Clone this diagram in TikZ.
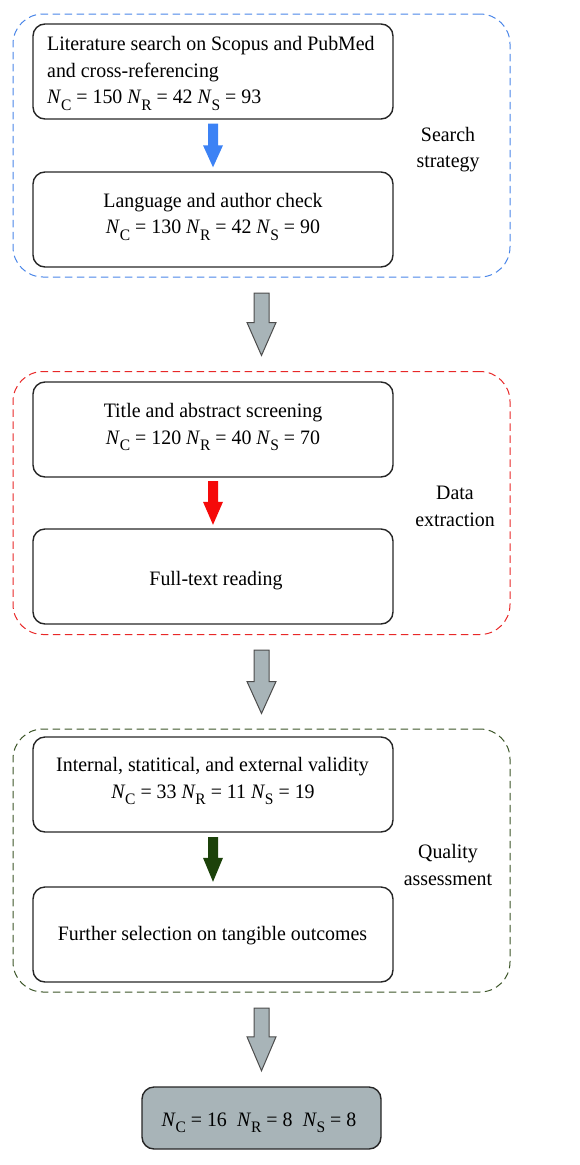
\documentclass[tikz,border=0pt]{standalone}
\usepackage{fontspec}
\setmainfont[FakeStretch=0.97]{Liberation Serif}
\usetikzlibrary{calc}
\definecolor{dblue}{RGB}{74,134,232}
\definecolor{dred}{RGB}{232,40,40}
\definecolor{dgreen}{RGB}{60,85,40}
\definecolor{agreen}{RGB}{28,66,10}
\definecolor{agrey}{RGB}{168,180,184}
\definecolor{ablue}{RGB}{60,130,245}
\definecolor{ared}{RGB}{245,10,10}
\newcommand{\Nx}[1]{\textit{N}\kern-0.3pt\raisebox{-6.5pt}{\fontsize{16}{16}\selectfont #1}}
\newcommand{\fatarrow}[7]{%
  \draw[#7] ($(#1.south)+(-#3,#6)$) -- ($(#1.south)+(#3,#6)$)
    -- ($(#2.north)+(#3,-#6-#5)$) -- ($(#2.north)+(#4,-#6-#5)$)
    -- ($(#2.north)+(0,-#6)$) -- ($(#2.north)+(-#4,-#6-#5)$)
    -- ($(#2.north)+(-#3,-#6-#5)$) -- cycle;}
\tikzset{
  txt/.style={font=\fontsize{20.5}{25}\selectfont, inner sep=0pt},
  box/.style={draw=black!85, line width=1.4pt, rounded corners=12pt, minimum width=360pt, minimum height=95pt, inner sep=0pt},
  dbox/.style={line width=1pt, dash pattern=on 7.5pt off 4.5pt, rounded corners=30pt, minimum width=497pt, minimum height=263pt, inner sep=0pt},
  greyarrow/.style={fill=agrey, draw=black!70, line width=1pt},
}
\begin{document}
\begin{tikzpicture}[x=1pt,y=-1pt]
\useasboundingbox (0,0) rectangle (579,1165);
% dashed groups
\node[dbox, draw=dblue] (s1) at (261.5,145.5) {};
\node[dbox, draw=dred] (s2) at (261.5,503) {};
\node[dbox, draw=dgreen] (s3) at (261.5,860.5) {};
% boxes
\node[box] (b1) at (213,71.5) {};
\node[box] (b2) at (213,219.5) {};
\node[box] (b3) at (213,429.5) {};
\node[box] (b4) at (213,576.5) {};
\node[box] (b5) at (213,784.5) {};
\node[box] (b6) at (213,934.5) {};
\node[box, fill=agrey, minimum width=239pt, minimum height=62pt] (fin) at (261.5,1118) {};
% texts
\node[txt, anchor=base west] (t1a) at (47,50) {Literature search on Scopus and PubMed};
\node[txt, anchor=base west] (t1b) at (47,77) {and cross-referencing};
\node[txt, anchor=base west] (t1c) at (47,103.5) {\Nx{C} = 150 \Nx{R} = 42 \Nx{S} = 93};
\node[txt, anchor=base] (t2a) at (213,207.5) {Language and author check};
\node[txt, anchor=base] (t2b) at (213,233.5) {\Nx{C} = 130 \Nx{R} = 42 \Nx{S} = 90};
\node[txt, anchor=base] (t3a) at (213,417) {Title and abstract screening};
\node[txt, anchor=base] (t3b) at (213,444) {\Nx{C} = 120 \Nx{R} = 40 \Nx{S} = 70};
\node[txt, anchor=base] (t4a) at (216,585) {Full-text reading};
\node[txt, anchor=base] (t5a) at (212.5,771.5) {Internal, statitical, and external validity};
\node[txt, anchor=base] (t5b) at (213,798) {\Nx{C} = 33 \Nx{R} = 11 \Nx{S} = 19};
\node[txt, anchor=base] (t6a) at (212.5,940) {Further selection on tangible outcomes};
\node[txt, anchor=base] (tfin) at (259,1126) {\Nx{C} = 16\enspace\Nx{R} = 8\enspace\Nx{S} = 8};
% side labels
\node[txt, anchor=base] (l1a) at (448,141.5) {Search};
\node[txt, anchor=base] (l1b) at (448,167.5) {strategy};
\node[txt, anchor=base] (l2a) at (455,499) {Data};
\node[txt, anchor=base] (l2b) at (455,526) {extraction};
\node[txt, anchor=base] (l3a) at (448,858) {Quality};
\node[txt, anchor=base] (l3b) at (448,885) {assessment};
% arrows
\fatarrow{b1}{b2}{5}{10}{22}{4}{fill=ablue, draw=none}
\fatarrow{b3}{b4}{5}{10}{23}{3.5}{fill=ared, draw=none}
\fatarrow{b5}{b6}{5}{10}{24}{4.5}{fill=agreen, draw=none}
\fatarrow{s1}{s2}{7.5}{14.5}{33}{15.5}{greyarrow}
\fatarrow{s2}{s3}{7.5}{14.5}{32}{15}{greyarrow}
\fatarrow{s3}{fin}{7.5}{14.5}{34}{15.5}{greyarrow}
\end{tikzpicture}
\end{document}
